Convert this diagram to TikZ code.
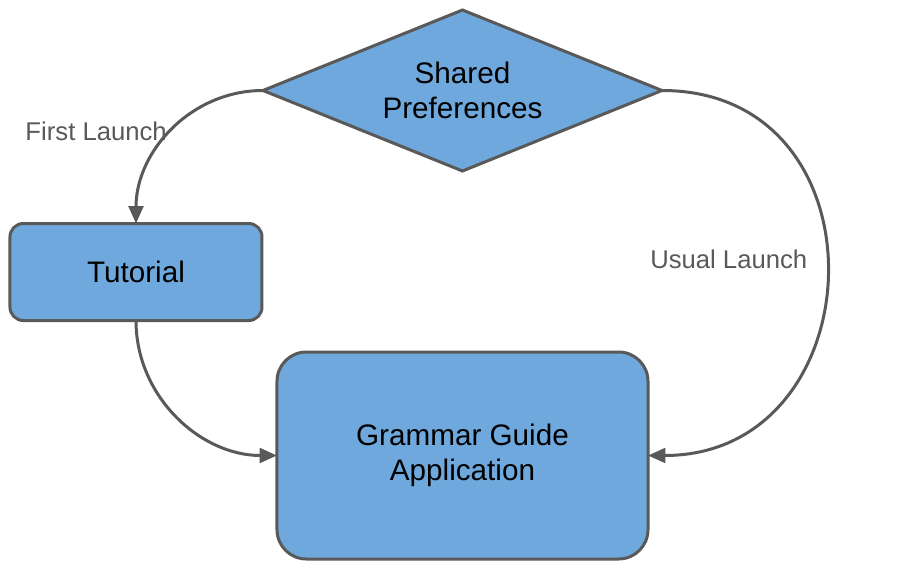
\documentclass[tikz,border=0pt]{standalone}
\usepackage{fontspec}
\setmainfont{Liberation Sans}
\usetikzlibrary{positioning, shapes.geometric, arrows.meta, calc}
\definecolor{boxblue}{HTML}{6FA8DC}
\definecolor{edgegray}{HTML}{595959}
\tikzset{%
  box/.style={draw=edgegray, fill=boxblue, line width=2.25pt, inner sep=0pt, outer sep=0pt,
    align=center, font=\fontsize{22.25}{26.25}\selectfont},
  lbl/.style={text=edgegray, inner sep=0pt, font=\fontsize{19.25}{22}\selectfont}, % launch labels
  every edge/.style={%
    draw=edgegray, line width=2.25pt, -{Triangle[length=13pt, width=11pt]}
  }
}

\begin{document}
\begin{tikzpicture}

\node[box, diamond, aspect=2.48, minimum width=299.25pt, minimum height=120.75pt] (prefs) {Shared\\Preferences};
\node[box, rounded corners=10pt, minimum width=189pt, minimum height=72.75pt, below left=99.75pt and 0.75pt of prefs.west] (tut) {Tutorial};
\node[box, rounded corners=22pt, minimum width=278.25pt, minimum height=155.25pt, below=135.75pt of prefs] (app) {Grammar Guide\\Application};

\node[lbl, below left=23.25pt and 72pt of prefs.west] (first) {First Launch};
\node[lbl, below right=119.25pt and -9pt of prefs.east] (usual) {Usual Launch};

\path (prefs.west) edge[out=180, in=90] (tut.north);
\path (tut.south) edge[out=-90, in=180] (app.west);
\path (prefs.east) edge[out=0, in=0, looseness=1.6] (app.east);

\useasboundingbox ($(prefs.center)+(-346.875pt,67.875pt)$) rectangle ++(679.5pt,-434.25pt);

\end{tikzpicture}
\end{document}
